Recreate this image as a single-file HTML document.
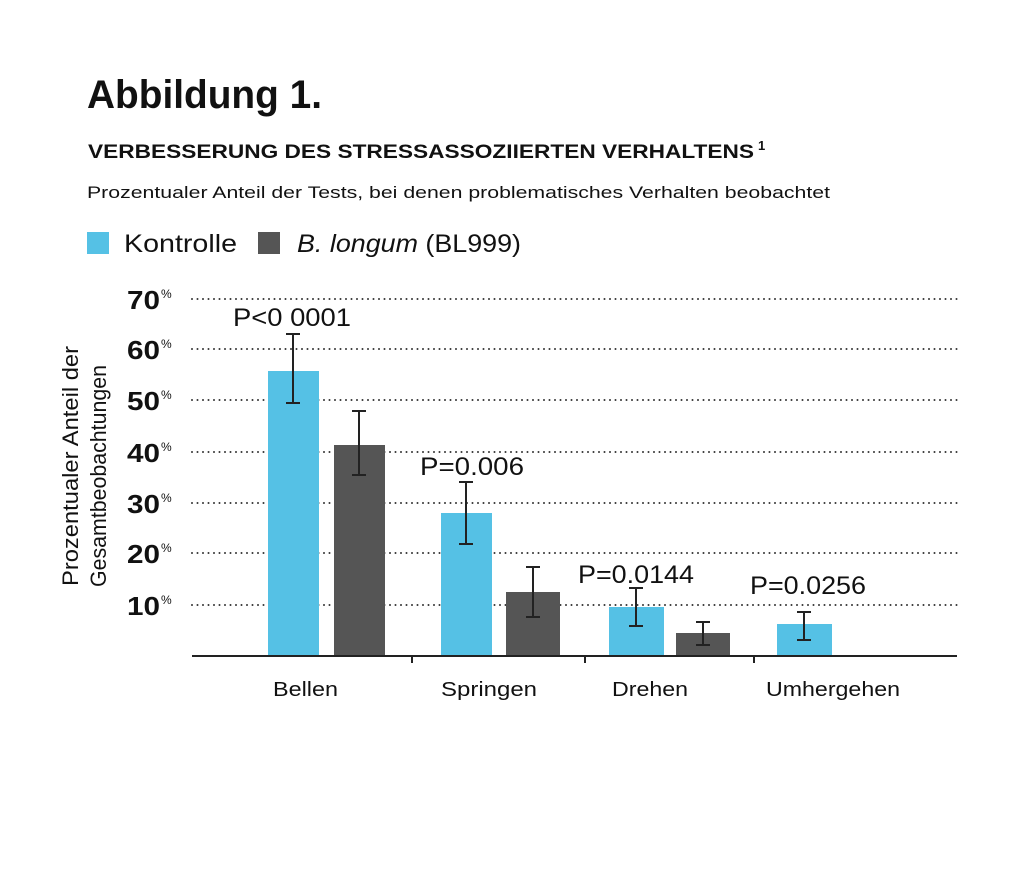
<!DOCTYPE html>
<html><head><meta charset="utf-8"><style>
html,body{margin:0;padding:0;background:#fff;}
svg{display:block;font-family:"Liberation Sans",sans-serif;}
</style></head><body>
<svg width="1024" height="889" viewBox="0 0 1024 889" xmlns="http://www.w3.org/2000/svg">
<text x="87" y="108" font-size="40" font-weight="bold" fill="#111" textLength="235" lengthAdjust="spacingAndGlyphs">Abbildung 1.</text>
<text x="88" y="158" font-size="19" font-weight="bold" fill="#111" textLength="666" lengthAdjust="spacingAndGlyphs">VERBESSERUNG DES STRESSASSOZIIERTEN VERHALTENS</text>
<text x="758" y="150" font-size="13" fill="#111" font-weight="bold">1</text>
<text x="87" y="198" font-size="17" fill="#111" textLength="743" lengthAdjust="spacingAndGlyphs">Prozentualer Anteil der Tests, bei denen problematisches Verhalten beobachtet</text>
<rect x="87" y="232" width="22" height="22" fill="#55c1e5"/>
<text x="124" y="252" font-size="25" fill="#111" textLength="113" lengthAdjust="spacingAndGlyphs">Kontrolle</text>
<rect x="258" y="232" width="22" height="22" fill="#555"/>
<text x="297" y="252" font-size="25" fill="#111" textLength="224" lengthAdjust="spacingAndGlyphs"><tspan font-style="italic">B. longum</tspan> (BL999)</text>
<g stroke="#333" stroke-width="2" stroke-dasharray="0 5.5" stroke-linecap="round">
<line x1="192" y1="299" x2="957" y2="299"/><line x1="192" y1="349" x2="957" y2="349"/>
<line x1="192" y1="400" x2="957" y2="400"/><line x1="192" y1="452" x2="957" y2="452"/>
<line x1="192" y1="503" x2="957" y2="503"/><line x1="192" y1="553" x2="957" y2="553"/>
<line x1="192" y1="605" x2="957" y2="605"/>
</g>
<g font-size="26" fill="#111" font-weight="bold">
<text x="127" y="309" textLength="33" lengthAdjust="spacingAndGlyphs">70</text>
<text x="127" y="359" textLength="33" lengthAdjust="spacingAndGlyphs">60</text>
<text x="127" y="410" textLength="33" lengthAdjust="spacingAndGlyphs">50</text>
<text x="127" y="462" textLength="33" lengthAdjust="spacingAndGlyphs">40</text>
<text x="127" y="513" textLength="33" lengthAdjust="spacingAndGlyphs">30</text>
<text x="127" y="563" textLength="33" lengthAdjust="spacingAndGlyphs">20</text>
<text x="127" y="615" textLength="33" lengthAdjust="spacingAndGlyphs">10</text>
</g>
<g font-size="12" fill="#111">
<text x="161" y="298">%</text><text x="161" y="348">%</text><text x="161" y="399">%</text>
<text x="161" y="451">%</text><text x="161" y="502">%</text><text x="161" y="552">%</text><text x="161" y="604">%</text>
</g>
<g font-size="22" fill="#111" text-anchor="middle">
<text transform="translate(78,466) rotate(-90)" textLength="240" lengthAdjust="spacingAndGlyphs">Prozentualer Anteil der</text>
<text transform="translate(106,476) rotate(-90)" textLength="222" lengthAdjust="spacingAndGlyphs">Gesamtbeobachtungen</text>
</g>
<g fill="#55c1e5">
<rect x="268" y="371" width="51" height="285"/>
<rect x="441" y="513" width="51" height="143"/>
<rect x="609" y="607" width="55" height="49"/>
<rect x="777" y="624" width="55" height="32"/>
</g>
<g fill="#555">
<rect x="334" y="445" width="51" height="211"/>
<rect x="506" y="592" width="54" height="64"/>
<rect x="676" y="633" width="54" height="23"/>
</g>
<line x1="192" y1="656" x2="957" y2="656" stroke="#222" stroke-width="2"/>
<g stroke="#222" stroke-width="2">
<line x1="412" y1="656" x2="412" y2="663"/><line x1="585" y1="656" x2="585" y2="663"/><line x1="754" y1="656" x2="754" y2="663"/>
</g>
<g stroke="#222" stroke-width="2">
<path d="M293 334V403M286 334H300M286 403H300"/>
<path d="M359 411V475M352 411H366M352 475H366"/>
<path d="M466 482V544M459 482H473M459 544H473"/>
<path d="M533 567V617M526 567H540M526 617H540"/>
<path d="M636 588V626M629 588H643M629 626H643"/>
<path d="M703 622V645M696 622H710M696 645H710"/>
<path d="M804 612V640M797 612H811M797 640H811"/>
</g>
<g font-size="25" fill="#111">
<text x="233" y="326" textLength="118" lengthAdjust="spacingAndGlyphs">P&lt;0 0001</text>
<text x="420" y="475" textLength="104" lengthAdjust="spacingAndGlyphs">P=0.006</text>
<text x="578" y="583" textLength="116" lengthAdjust="spacingAndGlyphs">P=0.0144</text>
<text x="750" y="594" textLength="116" lengthAdjust="spacingAndGlyphs">P=0.0256</text>
</g>
<g font-size="20" fill="#111">
<text x="273" y="696" textLength="65" lengthAdjust="spacingAndGlyphs">Bellen</text>
<text x="441" y="696" textLength="96" lengthAdjust="spacingAndGlyphs">Springen</text>
<text x="612" y="696" textLength="76" lengthAdjust="spacingAndGlyphs">Drehen</text>
<text x="766" y="696" textLength="134" lengthAdjust="spacingAndGlyphs">Umhergehen</text>
</g>
</svg>
</body></html>
